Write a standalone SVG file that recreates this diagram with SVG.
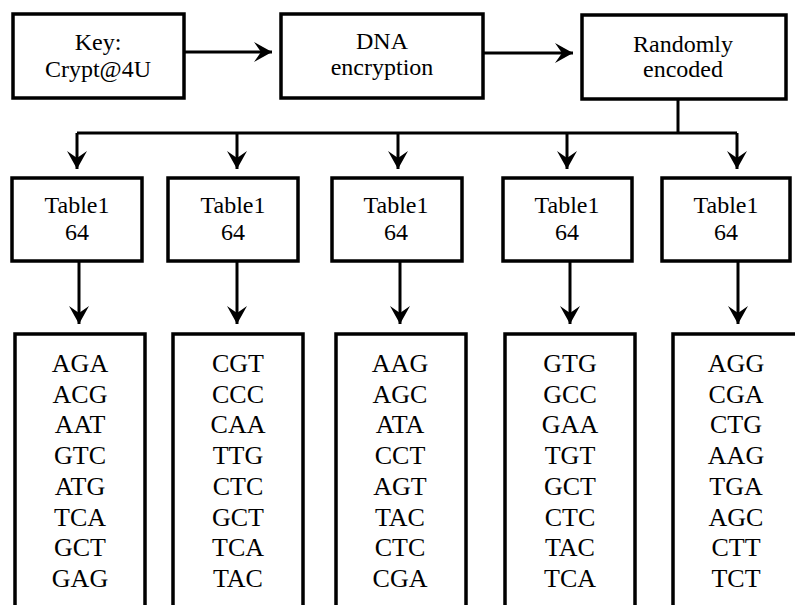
<svg xmlns="http://www.w3.org/2000/svg" width="795" height="605" viewBox="0 0 795 605">
<defs>
<marker id="ah" markerUnits="userSpaceOnUse" viewBox="-20 -12 22 24" refX="0" refY="0" markerWidth="22" markerHeight="24" orient="auto" overflow="visible">
<path d="M0,0 L-18,-10 L-11,0 L-18,10 Z" fill="#000"/>
</marker>
</defs>
<style>
.box{fill:#fff;stroke:#000;stroke-width:3.5}
.t{font-family:"Liberation Serif","Times New Roman",serif;font-size:24px;fill:#000;text-anchor:middle}
.c{font-family:"Liberation Serif","Times New Roman",serif;font-size:26px;fill:#000;text-anchor:middle}
.ln{fill:none;stroke:#000;stroke-width:3}
</style>
<rect width="795" height="605" fill="#fff"/>
<g id="connectors">
<line class="ln" x1="184" y1="52" x2="272" y2="52" marker-end="url(#ah)"/>
<line class="ln" x1="483" y1="53" x2="573" y2="53" marker-end="url(#ah)"/>
<polyline class="ln" points="678,99 678,133"/>
<line class="ln" x1="77" y1="133" x2="737" y2="133"/>
<line class="ln" x1="77" y1="133" x2="77" y2="169" marker-end="url(#ah)"/>
<line class="ln" x1="237" y1="133" x2="237" y2="169" marker-end="url(#ah)"/>
<line class="ln" x1="398" y1="133" x2="398" y2="169" marker-end="url(#ah)"/>
<line class="ln" x1="567" y1="133" x2="567" y2="169" marker-end="url(#ah)"/>
<line class="ln" x1="737" y1="133" x2="737" y2="169" marker-end="url(#ah)"/>
<line class="ln" x1="79" y1="261" x2="79" y2="324" marker-end="url(#ah)"/>
<line class="ln" x1="237" y1="261" x2="237" y2="324" marker-end="url(#ah)"/>
<line class="ln" x1="400" y1="261" x2="400" y2="324" marker-end="url(#ah)"/>
<line class="ln" x1="570" y1="261" x2="570" y2="324" marker-end="url(#ah)"/>
<line class="ln" x1="738" y1="261" x2="738" y2="324" marker-end="url(#ah)"/>
</g>
<g id="key">
<rect class="box" x="13" y="14" width="171" height="84"/>
<text class="t" x="98" y="50">Key:</text>
<text class="t" x="98" y="77">Crypt@4U</text>
</g>
<g id="dna">
<rect class="box" x="281" y="14" width="202" height="84"/>
<text class="t" x="382" y="49">DNA</text>
<text class="t" x="382" y="75">encryption</text>
</g>
<g id="random">
<rect class="box" x="582" y="15" width="204" height="84"/>
<text class="t" x="683" y="52">Randomly</text>
<text class="t" x="683" y="77">encoded</text>
</g>
<g id="table-a">
<rect class="box" x="12" y="178" width="130" height="83"/>
<text class="t" x="77" y="213">Table1</text>
<text class="t" x="77" y="240">64</text>
</g>
<g id="table-b">
<rect class="box" x="168" y="178" width="130" height="83"/>
<text class="t" x="233" y="213">Table1</text>
<text class="t" x="233" y="240">64</text>
</g>
<g id="table-c">
<rect class="box" x="332" y="178" width="130" height="83"/>
<text class="t" x="396" y="213">Table1</text>
<text class="t" x="396" y="240">64</text>
</g>
<g id="table-d">
<rect class="box" x="503" y="178" width="129" height="83"/>
<text class="t" x="567" y="213">Table1</text>
<text class="t" x="567" y="240">64</text>
</g>
<g id="table-e">
<rect class="box" x="662" y="178" width="128" height="83"/>
<text class="t" x="726" y="213">Table1</text>
<text class="t" x="726" y="240">64</text>
</g>
<g id="codes-a">
<rect class="box" x="15" y="334" width="130" height="290"/>
<text class="c" x="80" y="372">AGA</text>
<text class="c" x="80" y="402.7">ACG</text>
<text class="c" x="80" y="433.4">AAT</text>
<text class="c" x="80" y="464.1">GTC</text>
<text class="c" x="80" y="494.8">ATG</text>
<text class="c" x="80" y="525.5">TCA</text>
<text class="c" x="80" y="556.2">GCT</text>
<text class="c" x="80" y="587">GAG</text>
</g>
<g id="codes-b">
<rect class="box" x="173" y="334" width="130" height="290"/>
<text class="c" x="238" y="372">CGT</text>
<text class="c" x="238" y="402.7">CCC</text>
<text class="c" x="238" y="433.4">CAA</text>
<text class="c" x="238" y="464.1">TTG</text>
<text class="c" x="238" y="494.8">CTC</text>
<text class="c" x="238" y="525.5">GCT</text>
<text class="c" x="238" y="556.2">TCA</text>
<text class="c" x="238" y="587">TAC</text>
</g>
<g id="codes-c">
<rect class="box" x="336" y="334" width="130" height="290"/>
<text class="c" x="400" y="372">AAG</text>
<text class="c" x="400" y="402.7">AGC</text>
<text class="c" x="400" y="433.4">ATA</text>
<text class="c" x="400" y="464.1">CCT</text>
<text class="c" x="400" y="494.8">AGT</text>
<text class="c" x="400" y="525.5">TAC</text>
<text class="c" x="400" y="556.2">CTC</text>
<text class="c" x="400" y="587">CGA</text>
</g>
<g id="codes-d">
<rect class="box" x="505" y="334" width="130" height="290"/>
<text class="c" x="570" y="372">GTG</text>
<text class="c" x="570" y="402.7">GCC</text>
<text class="c" x="570" y="433.4">GAA</text>
<text class="c" x="570" y="464.1">TGT</text>
<text class="c" x="570" y="494.8">GCT</text>
<text class="c" x="570" y="525.5">CTC</text>
<text class="c" x="570" y="556.2">TAC</text>
<text class="c" x="570" y="587">TCA</text>
</g>
<g id="codes-e">
<rect class="box" x="673" y="334" width="140" height="290"/>
<text class="c" x="736" y="372">AGG</text>
<text class="c" x="736" y="402.7">CGA</text>
<text class="c" x="736" y="433.4">CTG</text>
<text class="c" x="736" y="464.1">AAG</text>
<text class="c" x="736" y="494.8">TGA</text>
<text class="c" x="736" y="525.5">AGC</text>
<text class="c" x="736" y="556.2">CTT</text>
<text class="c" x="736" y="587">TCT</text>
</g>
</svg>
